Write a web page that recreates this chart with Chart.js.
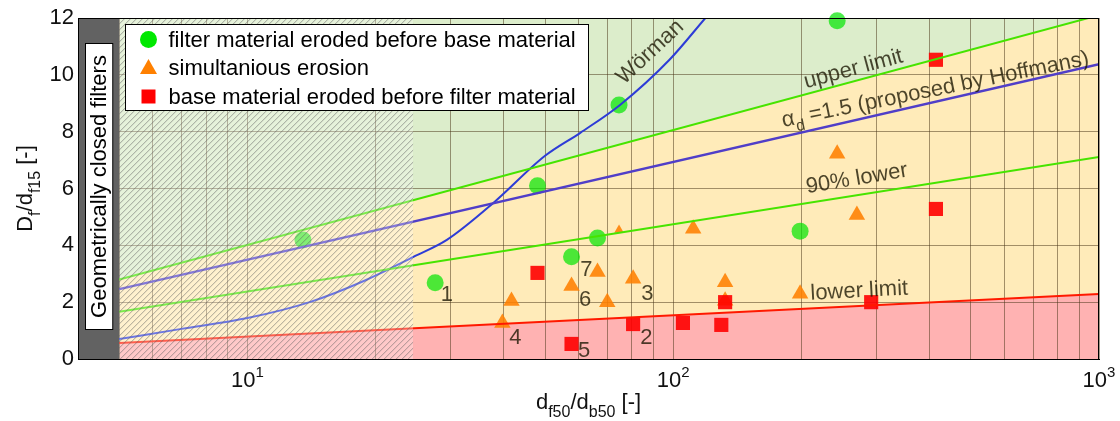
<!DOCTYPE html>
<html>
<head>
<meta charset="utf-8">
<script src="https://cdn.jsdelivr.net/npm/chart.js@4.4.1/dist/chart.umd.min.js"></script>
<style>
  html, body { margin: 0; padding: 0; background: #fff; }
  canvas { display: block; }
</style>
</head>
<body>
<canvas id="chart" width="1120" height="421"></canvas>
<script>
const FONT = "'Liberation Sans', Arial, sans-serif";

// straight criteria lines, given at both ends of the filter range
const limitX = [5, 1000];
const upperLimitY = [2.8, 12.1];
const hoffmansY = [2.46, 10.37];
const lower90Y = [1.66, 7.11];
const lowerLimitY = [0.56, 2.29];

// Wörman criterion
const wormanX = [5, 7, 10, 14, 19, 24.6, 29.4, 37.8, 50, 60.5, 75, 98, 119];
const wormanY = [0.70, 1.06, 1.44, 2.0, 2.78, 3.6, 4.19, 5.49, 7.15, 7.96, 8.94, 10.53, 12.0];

// tests
const filterFirstX = [13.5, 27.6, 48, 57.7, 66.4, 74.6, 198.6, 242.7];
const filterFirstY = [4.19, 2.68, 6.1, 3.6, 4.26, 8.94, 4.5, 11.9];

const simultaneousX = [39.7, 41.7, 57.7, 66.4, 70, 74.6, 80.5, 111.4, 132.4, 132.4, 198.6, 242.7, 270];
const simultaneousY = [1.27, 2.04, 2.57, 3.06, 2.0, 4.54, 2.82, 4.58, 2.7, 2.05, 2.3, 7.22, 5.07];

const baseFirstX = [48, 57.7, 80.5, 105.4, 129.7, 132.4, 291.7, 414, 414];
const baseFirstY = [3.03, 0.53, 1.23, 1.27, 1.2, 2.0, 2.0, 5.28, 10.53];

const legendLabels = [
  'filter material eroded before base material',
  'simultanious erosion',
  'base material eroded before filter material'
];

const closedRange = [4, 5];      // geometrically closed filters
const hatchRange = [5, 24.5];
const xGridValues = [4, 5, 6, 7, 8, 9, 10, 20, 30, 40, 50, 60, 70, 80, 90, 100,
  200, 300, 400, 500, 600, 700, 800, 900, 1000];
const xTickLabels = [10, 100, 1000];

const pointLabelText = ['1', '2', '3', '4', '5', '6', '7'];
const pointLabelX = [29.4, 86.5, 86.9, 42.6, 61.8, 62.1, 62.5];
const pointLabelY = [2.25, 0.74, 2.29, 0.74, 0.28, 2.08, 3.13];

const pts = (xs, ys) => xs.map((x, i) => ({ x: x, y: ys[i] }));

const GREEN = 'rgb(70,228,0)';
const BLUE = 'rgb(80,62,200)';
const RED = 'rgb(255,25,0)';
const TXT = 'rgba(25,20,0,0.78)';

function lineSet(label, data, color, width, fill, bg) {
  return {
    type: 'line', label: label, data: data,
    borderColor: color, borderWidth: width,
    backgroundColor: bg || 'transparent', fill: fill,
    pointRadius: 0, tension: 0, order: 0
  };
}

function richText(ctx, parts, x, y, big, small, shift) {
  let w = 0;
  parts.forEach(p => {
    ctx.font = (p[1] ? small : big) + 'px ' + FONT;
    w += ctx.measureText(p[0]).width;
  });
  let cx = x - w / 2;
  ctx.textAlign = 'left';
  ctx.textBaseline = 'alphabetic';
  parts.forEach(p => {
    ctx.font = (p[1] ? small : big) + 'px ' + FONT;
    ctx.fillText(p[0], cx, y + (p[1] ? shift : 0));
    cx += ctx.measureText(p[0]).width;
  });
}

function marker(ctx, style, x, y, color) {
  ctx.fillStyle = color;
  ctx.beginPath();
  if (style === 'circle') {
    ctx.arc(x, y, 8.5, 0, Math.PI * 2);
  } else if (style === 'triangle') {
    ctx.moveTo(x, y - 9);
    ctx.lineTo(x + 8.5, y + 6);
    ctx.lineTo(x - 8.5, y + 6);
    ctx.closePath();
  } else {
    ctx.rect(x - 7, y - 7, 14, 14);
  }
  ctx.fill();
}

const decorations = {
  id: 'decorations',
  beforeDatasetsDraw(chart) {
    const { ctx, chartArea: a, scales: { x } } = chart;
    const x0 = x.getPixelForValue(closedRange[0]);
    const x1 = x.getPixelForValue(closedRange[1]);
    ctx.save();
    ctx.fillStyle = '#626262';
    ctx.fillRect(x0, a.top, x1 - x0, a.bottom - a.top);
    // label box
    const bl = x0 + 7.5, br = x1 - 6.5, bt = a.top + 25.5, bb = a.bottom - 29.5;
    ctx.fillStyle = '#fff';
    ctx.fillRect(bl, bt, br - bl, bb - bt);
    ctx.strokeStyle = '#000';
    ctx.lineWidth = 1;
    ctx.strokeRect(bl, bt, br - bl, bb - bt);
    ctx.translate((bl + br) / 2 + 1, (bt + bb) / 2);
    ctx.rotate(-Math.PI / 2);
    ctx.fillStyle = '#000';
    ctx.font = '22px ' + FONT;
    ctx.textAlign = 'center';
    ctx.textBaseline = 'middle';
    ctx.fillText('Geometrically closed filters', 0, 0);
    ctx.restore();
  },
  afterDatasetsDraw(chart) {
    const { ctx, chartArea: a, scales: { x, y } } = chart;

    // hatched, faded region
    const h0 = x.getPixelForValue(hatchRange[0]);
    const h1 = x.getPixelForValue(hatchRange[1]);
    ctx.save();
    ctx.beginPath();
    ctx.rect(h0, a.top, h1 - h0, a.bottom - a.top);
    ctx.clip();
    ctx.fillStyle = 'rgba(255,255,255,0.3)';
    ctx.fillRect(h0, a.top, h1 - h0, a.bottom - a.top);
    ctx.strokeStyle = 'rgba(95,95,95,0.55)';
    ctx.lineWidth = 1;
    ctx.beginPath();
    const hh = a.bottom - a.top;
    for (let px = h0 - hh; px < h1; px += 6) {
      ctx.moveTo(px, a.bottom);
      ctx.lineTo(px + hh, a.top);
    }
    ctx.stroke();
    ctx.restore();

    // curve labels
    ctx.save();
    ctx.fillStyle = TXT;
    const curveLabels = [
      ['Wörman', 88.3, 10.8, -43],
      ['upper limit', 265, 10.2, -15],
      ['90% lower', 270, 6.34, -9.5],
      ['lower limit', 273.5, 2.39, -3]
    ];
    curveLabels.forEach(c => {
      ctx.save();
      ctx.translate(x.getPixelForValue(c[1]), y.getPixelForValue(c[2]));
      ctx.rotate(c[3] * Math.PI / 180);
      ctx.font = '22px ' + FONT;
      ctx.textAlign = 'center';
      ctx.textBaseline = 'middle';
      ctx.fillText(c[0], 0, 0);
      ctx.restore();
    });
    ctx.save();
    ctx.translate(x.getPixelForValue(412), y.getPixelForValue(9.54));
    ctx.rotate(-11.5 * Math.PI / 180);
    richText(ctx, [['\u03b1', 0], ['d', 1], [' =1.5 (proposed by Hoffmans)', 0]], 0, 8, 22, 16, 7);
    ctx.restore();

    ctx.font = '22px ' + FONT;
    ctx.textAlign = 'center';
    ctx.textBaseline = 'middle';
    pointLabelText.forEach((t, i) => {
      ctx.fillText(t, x.getPixelForValue(pointLabelX[i]), y.getPixelForValue(pointLabelY[i]));
    });
    ctx.restore();

    // legend
    ctx.save();
    const lx = a.left + 47.5, ly = a.top + 6.5, lw = 463, lh = 86;
    ctx.fillStyle = '#fff';
    ctx.fillRect(lx, ly, lw, lh);
    ctx.strokeStyle = '#000';
    ctx.lineWidth = 1;
    ctx.strokeRect(lx, ly, lw, lh);
    const styles = [['circle', 'rgb(0,232,0)'], ['triangle', 'rgb(255,128,0)'], ['rect', 'rgb(255,0,0)']];
    legendLabels.forEach((t, i) => {
      const cy = ly + 15 + i * 28.5;
      marker(ctx, styles[i][0], lx + 23, cy, styles[i][1]);
      ctx.fillStyle = '#000';
      ctx.font = '22px ' + FONT;
      ctx.textAlign = 'left';
      ctx.textBaseline = 'middle';
      ctx.fillText(t, lx + 43, cy + 1);
    });
    ctx.restore();
  },
  afterDraw(chart) {
    const { ctx, chartArea: a, scales: { x } } = chart;
    ctx.save();
    ctx.strokeStyle = '#000';
    ctx.lineWidth = 1;
    ctx.strokeRect(Math.round(a.left) + 0.5, Math.round(a.top) + 0.5,
      Math.round(a.right - a.left) - 1, Math.round(a.bottom - a.top));
    ctx.fillStyle = '#111';
    // x tick labels 10^n
    xTickLabels.forEach(v => {
      const px = x.getPixelForValue(v);
      const e = String(Math.round(Math.log10(v)));
      ctx.font = '22px ' + FONT;
      const w1 = ctx.measureText('10').width;
      ctx.font = '15px ' + FONT;
      const w2 = ctx.measureText(e).width;
      const sx = px - (w1 + w2) / 2;
      ctx.textAlign = 'left';
      ctx.textBaseline = 'alphabetic';
      ctx.font = '22px ' + FONT;
      ctx.fillText('10', sx, a.bottom + 28);
      ctx.font = '15px ' + FONT;
      ctx.fillText(e, sx + w1, a.bottom + 18);
    });
    // axis titles
    richText(ctx, [['d', 0], ['f50', 1], ['/d', 0], ['b50', 1], [' [-]', 0]],
      (a.left + a.right) / 2, a.bottom + 50, 22, 16, 8);
    ctx.translate(a.left - 46, (a.top + a.bottom) / 2);
    ctx.rotate(-Math.PI / 2);
    richText(ctx, [['D', 0], ['f', 1], ['/d', 0], ['f15', 1], [' [-]', 0]], 0, 0, 22, 16, 8);
    ctx.restore();
  }
};

const gridColor = 'rgba(70,50,20,0.5)';

new Chart(document.getElementById('chart').getContext('2d'), {
  type: 'scatter',
  data: {
    datasets: [
      lineSet('above upper', pts(limitX, upperLimitY), 'transparent', 0, 'end', 'rgb(220,237,203)'),
      lineSet('upper limit', pts(limitX, upperLimitY), GREEN, 2, 4, 'rgb(255,235,185)'),
      lineSet('Hoffmans', pts(limitX, hoffmansY), BLUE, 2.5, false),
      lineSet('90% lower', pts(limitX, lower90Y), GREEN, 2, false),
      lineSet('lower limit', pts(limitX, lowerLimitY), RED, 2, 'origin', 'rgb(255,178,178)'),
      Object.assign(lineSet('Wörman', pts(wormanX, wormanY), 'rgb(45,60,215)', 2, false),
        { cubicInterpolationMode: 'monotone' }),
      {
        label: legendLabels[0], data: pts(filterFirstX, filterFirstY),
        pointStyle: 'circle', pointRadius: 8.5, borderWidth: 0,
        backgroundColor: 'rgba(0,230,0,0.7)', order: 2, clip: false
      },
      {
        label: legendLabels[1], data: pts(simultaneousX, simultaneousY),
        pointStyle: 'triangle', borderWidth: 0,
        pointRadius: c => (c.dataIndex === 5 ? 5.5 : 9.5),
        backgroundColor: 'rgba(255,128,0,0.88)', order: 2, clip: false
      },
      {
        label: legendLabels[2], data: pts(baseFirstX, baseFirstY),
        pointStyle: 'rect', pointRadius: 10, borderWidth: 0,
        backgroundColor: 'rgba(255,0,0,0.9)', order: 1, clip: false
      }
    ]
  },
  options: {
    responsive: false,
    animation: false,
    events: [],
    layout: { padding: { top: 18, right: 21, left: 0, bottom: 0 } },
    plugins: {
      legend: { display: false },
      tooltip: { enabled: false },
      filler: { drawTime: 'beforeDraw' }
    },
    scales: {
      x: {
        type: 'logarithmic', min: 4, max: 1000,
        afterBuildTicks: s => { s.ticks = xGridValues.map(v => ({ value: v })); },
        afterFit: s => { s.height = 62; },
        ticks: { display: false },
        grid: { color: gridColor, drawTicks: false },
        border: { color: '#000' }
      },
      y: {
        min: 0, max: 12,
        afterFit: s => { s.width = 78; },
        ticks: { stepSize: 2, padding: 4, color: '#111', font: { family: FONT, size: 22 } },
        grid: { color: gridColor, drawTicks: false },
        border: { color: '#000' }
      }
    }
  },
  plugins: [decorations]
});
</script>
</body>
</html>
